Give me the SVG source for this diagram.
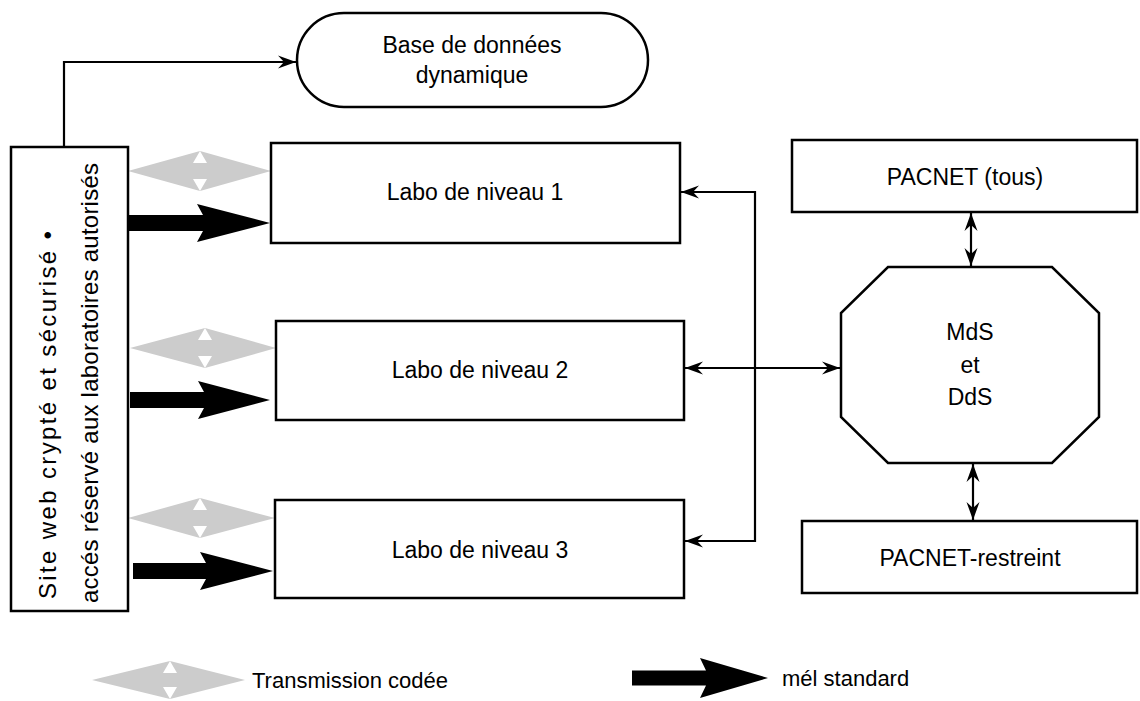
<svg xmlns="http://www.w3.org/2000/svg" width="1140" height="701" viewBox="0 0 1140 701">
<style>
.box{fill:#fff;stroke:#000;stroke-width:2.5}
.ln{fill:none;stroke:#000;stroke-width:2.2}
.t{font-family:"Liberation Sans",Arial,sans-serif;font-size:23px;fill:#000;text-anchor:middle}
.tl{font-family:"Liberation Sans",Arial,sans-serif;font-size:22px;fill:#000}
.tv{font-family:"Liberation Sans",Arial,sans-serif;font-size:24px;fill:#000}
.g{fill:#cccccc}
.w{fill:#fff}
.b{fill:#000}
</style>
<defs>
<marker id="ah" viewBox="-19 -7 20 14" refX="0" refY="0" markerWidth="20" markerHeight="14" markerUnits="userSpaceOnUse" orient="auto-start-reverse">
<path d="M0,0 L-18,-6.5 L-12,0 L-18,6.5 Z" fill="#000"/>
</marker>
</defs>

<g id="connectors">
<path class="ln" d="M64,147 V62 H296" marker-end="url(#ah)"/>
<path class="ln" d="M681,192 H755 V541 H685" marker-start="url(#ah)" marker-end="url(#ah)"/>
<path class="ln" d="M685,368 H840" marker-start="url(#ah)" marker-end="url(#ah)"/>
<path class="ln" d="M971,213 V266" marker-start="url(#ah)" marker-end="url(#ah)"/>
<path class="ln" d="M973,464 V520" marker-start="url(#ah)" marker-end="url(#ah)"/>
</g>

<g id="transmissions">
<path class="g" d="M128,171 L200,151 L271,171 L200,191 Z"/>
<path class="w" d="M200,151 L193,163 L207,163 Z M200,191 L193,179 L207,179 Z"/>
<path class="g" d="M130,348 L205,328 L276,348 L205,368 Z"/>
<path class="w" d="M205,328 L198,340 L212,340 Z M205,368 L198,356 L212,356 Z"/>
<path class="g" d="M128,518 L200,498 L275,518 L200,538 Z"/>
<path class="w" d="M200,498 L193,510 L207,510 Z M200,538 L193,526 L207,526 Z"/>
</g>

<g id="mails">
<path class="b" d="M128,215 H203 L197,204 L270,223 L197,242 L203,231 H128 Z"/>
<path class="b" d="M130,392 H204 L198,381 L270,400 L198,419 L204,408 H130 Z"/>
<path class="b" d="M133,563 H206 L200,552 L273,571 L200,590 L206,579 H133 Z"/>
</g>

<g id="site">
<rect class="box" x="11" y="147" width="117" height="464"/>
<text class="tv" transform="translate(56,599) rotate(-90)" textLength="368" lengthAdjust="spacing">Site web crypté et sécurisé •</text>
<text class="tv" transform="translate(98,603) rotate(-90)" textLength="440" lengthAdjust="spacing">accés réservé aux laboratoires autorisés</text>
</g>

<g id="base">
<rect class="box" x="297" y="13" width="351" height="94" rx="47" ry="47"/>
<text class="t" x="472" y="53">Base de données</text>
<text class="t" x="472" y="83">dynamique</text>
</g>

<g id="labo1">
<rect class="box" x="271" y="143" width="409" height="100"/>
<text class="t" x="475" y="200">Labo de niveau 1</text>
</g>

<g id="labo2">
<rect class="box" x="276" y="321" width="408" height="99"/>
<text class="t" x="480" y="378">Labo de niveau 2</text>
</g>

<g id="labo3">
<rect class="box" x="275" y="500" width="409" height="98"/>
<text class="t" x="480" y="558">Labo de niveau 3</text>
</g>

<g id="pacnet">
<rect class="box" x="792" y="140" width="345" height="72"/>
<text class="t" x="965" y="185">PACNET (tous)</text>
</g>

<g id="mds">
<polygon class="box" points="888,267 1052,267 1099,313 1099,417 1052,463 888,463 841,417 841,313"/>
<text class="t" x="970" y="340">MdS</text>
<text class="t" x="970" y="373">et</text>
<text class="t" x="970" y="405">DdS</text>
</g>

<g id="pacnet-restreint">
<rect class="box" x="802" y="521" width="335" height="72"/>
<text class="t" x="970" y="566">PACNET-restreint</text>
</g>

<g id="legend">
<path class="g" d="M92,680 L170,661 L245,680 L170,699 Z"/>
<path class="w" d="M170,661 L163,673 L177,673 Z M170,699 L163,687 L177,687 Z"/>
<text class="tl" x="252" y="688">Transmission codée</text>
<path class="b" d="M632,670.5 H706 L700,658 L768,678 L700,698 L706,685.5 H632 Z"/>
<text class="tl" x="782" y="686">mél standard</text>
</g>
</svg>
